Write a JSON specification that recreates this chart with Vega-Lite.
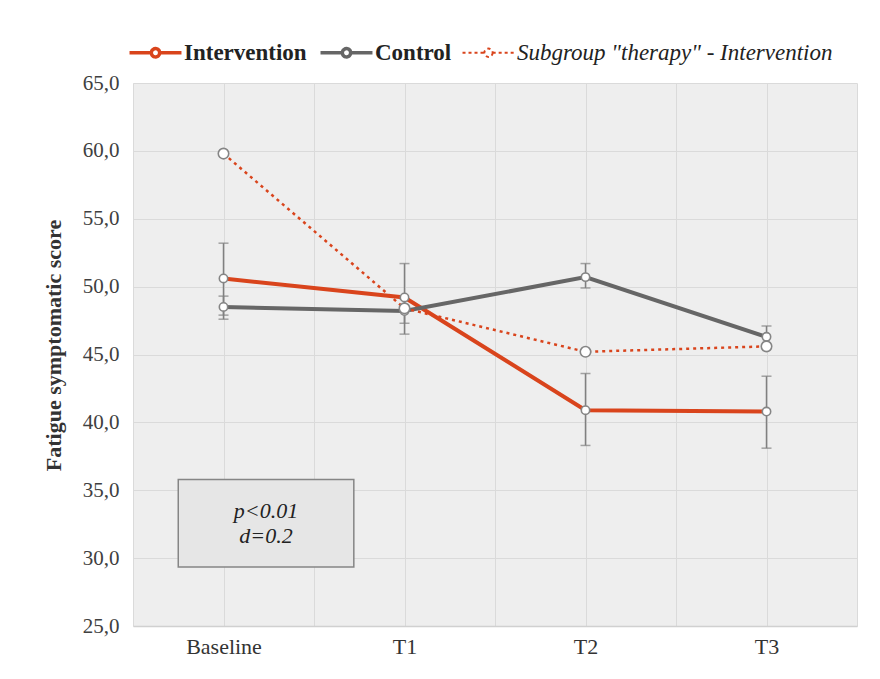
{
  "$schema": "https://vega.github.io/schema/vega-lite/v6.json",
  "autosize": {"type": "none"},
  "width": 724,
  "height": 543,
  "padding": {"left": 133, "top": 83, "right": 23, "bottom": 53},
  "background": "white",
  "config": {
    "view": {"fill": "#eeeeee", "stroke": null},
    "font": "Liberation Serif"
  },
  "datasets": {
    "scores": [
      {"group": "Intervention", "time": "Baseline", "t": 0, "score": 50.6, "lo": 47.9, "hi": 53.2},
      {"group": "Intervention", "time": "T1", "t": 1, "score": 49.2, "lo": 46.5, "hi": 51.7},
      {"group": "Intervention", "time": "T2", "t": 2, "score": 40.9, "lo": 38.3, "hi": 43.6},
      {"group": "Intervention", "time": "T3", "t": 3, "score": 40.8, "lo": 38.1, "hi": 43.4},
      {"group": "Control", "time": "Baseline", "t": 0, "score": 48.5, "lo": 47.6, "hi": 49.3},
      {"group": "Control", "time": "T1", "t": 1, "score": 48.2, "lo": 47.3, "hi": 49.1},
      {"group": "Control", "time": "T2", "t": 2, "score": 50.7, "lo": 49.9, "hi": 51.7},
      {"group": "Control", "time": "T3", "t": 3, "score": 46.3, "lo": 45.5, "hi": 47.1},
      {"group": "Subgroup \"therapy\" - Intervention", "time": "Baseline", "t": 0, "score": 59.8},
      {"group": "Subgroup \"therapy\" - Intervention", "time": "T1", "t": 1, "score": 48.4},
      {"group": "Subgroup \"therapy\" - Intervention", "time": "T2", "t": 2, "score": 45.2},
      {"group": "Subgroup \"therapy\" - Intervention", "time": "T3", "t": 3, "score": 45.6}
    ],
    "stats": [
      {"line1": "p<0.01", "line2": "d=0.2"}
    ]
  },
  "layer": [
    {
      "data": {"name": "stats"},
      "mark": {"type": "rect", "fill": "#e6e6e6", "stroke": "#858585", "strokeWidth": 1.5},
      "encoding": {
        "x": {
          "datum": -0.25,
          "type": "quantitative",
          "title": null,
          "scale": {"domain": [-0.5, 3.5], "nice": false, "zero": false},
          "axis": {
            "title": null,
            "values": [-0.5, 0, 0.5, 1, 1.5, 2, 2.5, 3, 3.5],
            "labelExpr": "datum.value === 0 ? 'Baseline' : datum.value === 1 ? 'T1' : datum.value === 2 ? 'T2' : datum.value === 3 ? 'T3' : ''",
            "labelFont": "Liberation Serif",
            "labelFontSize": 22,
            "labelColor": "#333333",
            "labelPadding": 10,
            "labelFlush": false,
            "labelOverlap": false,
            "ticks": false,
            "domainColor": "#d0d0d0",
            "domainWidth": 1.5,
            "grid": true,
            "gridColor": "#dadada",
            "gridWidth": 1
          }
        },
        "x2": {"datum": 0.72},
        "y": {
          "datum": 35.8,
          "type": "quantitative",
          "title": "Fatigue symptomatic score",
          "scale": {"domain": [25, 65], "nice": false, "zero": false},
          "axis": {
            "title": "Fatigue symptomatic score",
            "titleFont": "Liberation Serif",
            "titleFontSize": 22,
            "titleFontWeight": "bold",
            "titleColor": "#333333",
            "titleAngle": 270,
            "titleBaseline": "middle",
            "titleAlign": "center",
            "titleX": -80,
            "titleY": 262,
            "values": [25, 30, 35, 40, 45, 50, 55, 60, 65],
            "labelExpr": "replace(format(datum.value, '.1f'), '.', ',')",
            "labelFont": "Liberation Serif",
            "labelFontSize": 21,
            "labelColor": "#404040",
            "labelPadding": 14,
            "ticks": false,
            "domain": false,
            "grid": true,
            "gridColor": "#dadada",
            "gridWidth": 1
          }
        },
        "y2": {"datum": 29.35}
      }
    },
    {
      "data": {"name": "stats"},
      "mark": {"type": "text", "font": "Liberation Serif", "fontSize": 22, "fontStyle": "italic", "color": "#222222", "align": "center", "baseline": "middle"},
      "encoding": {
        "x": {"datum": 0.235, "type": "quantitative", "title": null},
        "y": {"datum": 33.45, "type": "quantitative", "title": "Fatigue symptomatic score"},
        "text": {"field": "line1"}
      }
    },
    {
      "data": {"name": "stats"},
      "mark": {"type": "text", "font": "Liberation Serif", "fontSize": 22, "fontStyle": "italic", "color": "#222222", "align": "center", "baseline": "middle"},
      "encoding": {
        "x": {"datum": 0.235, "type": "quantitative", "title": null},
        "y": {"datum": 31.65, "type": "quantitative", "title": "Fatigue symptomatic score"},
        "text": {"field": "line2"}
      }
    },
    {
      "data": {"name": "scores"},
      "transform": [{"filter": "isValid(datum.lo)"}],
      "mark": {
        "type": "errorbar",
        "color": "#808080",
        "rule": {"strokeWidth": 1.5},
        "ticks": {"size": 10, "thickness": 1.5, "color": "#808080"}
      },
      "encoding": {
        "x": {"field": "t", "type": "quantitative", "title": null},
        "y": {"field": "lo", "type": "quantitative", "title": "Fatigue symptomatic score"},
        "y2": {"field": "hi", "title": null}
      }
    },
    {
      "data": {"name": "scores"},
      "transform": [{"filter": "datum.group !== 'Subgroup \"therapy\" - Intervention'"}],
      "mark": {"type": "line", "strokeWidth": 4},
      "encoding": {
        "x": {"field": "t", "type": "quantitative", "title": null},
        "y": {"field": "score", "type": "quantitative", "title": "Fatigue symptomatic score"},
        "color": {
          "field": "group",
          "type": "nominal",
          "scale": {
            "domain": ["Intervention", "Control", "Subgroup \"therapy\" - Intervention"],
            "range": ["#d9441c", "#666666", "#d9441c"]
          },
          "legend": {
            "title": null,
            "orient": "none",
            "direction": "horizontal",
            "legendX": 11,
            "legendY": -42,
            "columns": 3,
            "columnPadding": 6,
            "labelFont": "Liberation Serif",
            "labelFontSize": 23,
            "labelColor": "#222222",
            "labelOffset": 17,
            "labelLimit": 400,
            "symbolType": "M-1,0H-0.16M0.16,0H1M0.16,0A0.16,0.16,0,1,1,-0.16,0A0.16,0.16,0,1,1,0.16,0",
            "symbolSize": 2700,
            "symbolStrokeWidth": 3.5,
            "encode": {
              "symbols": {
                "update": {
                  "fill": {"value": "white"},
                  "strokeDash": {"signal": "datum.value === 'Subgroup \"therapy\" - Intervention' ? [3, 3] : [1, 0]"},
                  "strokeWidth": {"signal": "datum.value === 'Subgroup \"therapy\" - Intervention' ? 2 : 3.5"}
                }
              },
              "labels": {
                "update": {
                  "fontWeight": {"signal": "datum.value === 'Subgroup \"therapy\" - Intervention' ? 'normal' : 'bold'"},
                  "fontStyle": {"signal": "datum.value === 'Subgroup \"therapy\" - Intervention' ? 'italic' : 'normal'"}
                }
              }
            }
          }
        }
      }
    },
    {
      "data": {"name": "scores"},
      "transform": [{"filter": "datum.group === 'Subgroup \"therapy\" - Intervention'"}],
      "mark": {"type": "line", "strokeWidth": 2.5, "strokeDash": [3, 4]},
      "encoding": {
        "x": {"field": "t", "type": "quantitative", "title": null},
        "y": {"field": "score", "type": "quantitative", "title": "Fatigue symptomatic score"},
        "color": {"field": "group", "type": "nominal"}
      }
    },
    {
      "data": {"name": "scores"},
      "mark": {"type": "point", "shape": "circle", "filled": true, "fill": "white", "stroke": "#858585", "strokeWidth": 1.6, "opacity": 1},
      "encoding": {
        "x": {"field": "t", "type": "quantitative", "title": null},
        "y": {"field": "score", "type": "quantitative", "title": "Fatigue symptomatic score"},
        "size": {
          "condition": {"test": "datum.group === 'Subgroup \"therapy\" - Intervention'", "value": 110},
          "value": 70
        }
      }
    }
  ]
}
